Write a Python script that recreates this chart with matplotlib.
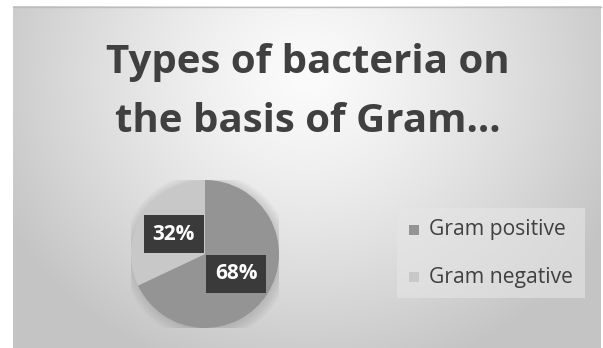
import numpy as np
import matplotlib.pyplot as plt
from matplotlib.patches import Rectangle, Circle

# data
labels = ['Gram positive', 'Gram negative']
shares = [68, 32]
colors = ['#949494', '#c8c8c8']
title_lines = ['Types of bacteria on', 'the basis of Gram...']

W, H = 603, 348
plt.rcParams['hatch.color'] = '#5a5a5a'
plt.rcParams['hatch.linewidth'] = 0.6
fig = plt.figure(figsize=(W / 100, H / 100), dpi=100)
fig.patch.set_facecolor('white')

# background panel with radial gradient
bg = fig.add_axes([0, 0, 1, 1])
bg.set_xlim(0, W)
bg.set_ylim(H, 0)
bg.axis('off')
yy, xx = np.mgrid[0:H, 0:W]
d = np.sqrt(((xx - 300) / 330.0) ** 2 + ((yy - 70) / 300.0) ** 2)
shade = np.clip(0.985 - 0.2 * d ** 1.3, 0.77, 1)
img = np.dstack([shade, shade, shade])
bg.imshow(img, extent=[13, 601, H, 6], aspect='auto', interpolation='bilinear')
bg.plot([13, 601], [6.5, 6.5], color='#bdbdbd', lw=1)

# title, two lines
for y, line in zip([73, 132], title_lines):
    bg.text(308, y, line, ha='center', va='baseline', fontsize=29,
            fontweight='bold', color='#404040', family='Open Sans')

# legend box
bg.add_patch(Rectangle((397, 208), 188, 90, fc='#e6e6e6', ec='none', alpha=0.6))
for i, (lab, c) in enumerate(zip(labels, colors)):
    y = 230 + i * 47
    bg.add_patch(Rectangle((409, y - 5), 10, 10, fc=c, ec='none'))
    bg.text(429, y, lab, va='center', ha='left', fontsize=15.2,
            color='#404040', family='Open Sans')

# pie
cx, cy, r = 205, 254, 74
ax = fig.add_axes([(cx - r) / W, (H - cy - r) / H, 2 * r / W, 2 * r / H])
for k in range(6):
    ax.add_patch(Circle((0.02, -0.03), 1.0 + 0.025 * k, fc='#777777',
                        alpha=0.05, ec='none', zorder=0))
wedges, texts, autotexts = ax.pie(shares, colors=colors, startangle=90,
                                  counterclock=False, autopct='%d%%',
                                  pctdistance=0.5,
                                  wedgeprops=dict(linewidth=0))
for t in autotexts:
    t.set_color('white')
    t.set_fontsize(15)
    t.set_fontweight('bold')
    t.set_family('Open Sans')
    t.set_bbox(dict(boxstyle='square,pad=0.42', fc='#3a3a3a', ec='none',
                    hatch='....'))
ax.set_xlim(-1, 1)
ax.set_ylim(-1, 1)
ax.axis('off')

fig.savefig('out.png', dpi=100)
